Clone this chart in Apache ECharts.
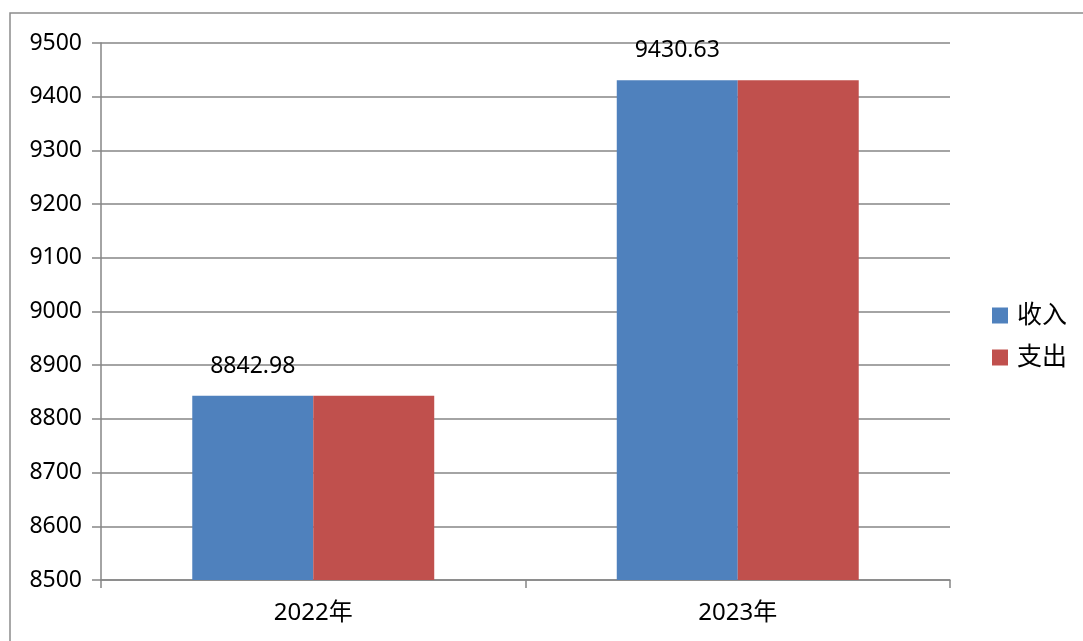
<!DOCTYPE html>
<html><head><meta charset="utf-8">
<script src="https://cdn.jsdelivr.net/npm/echarts@6/dist/echarts.min.js"></script>
<style>html,body{margin:0;padding:0;background:#fff}#c{width:1083px;height:641px}</style>
</head><body><div id="c"></div>
<script>
const categories = ['2022年', '2023年'];
const income = [8842.98, 9430.63];
const expense = [8842.98, 9430.63];
const seriesNames = ['收入', '支出'];

const chart = echarts.init(document.getElementById('c'));
const font = '"Noto Sans", "Noto Sans CJK SC", sans-serif';
chart.setOption({
  animation: false,
  backgroundColor: '#fff',
  graphic: [{type: 'rect', shape: {x: 10, y: 13, width: 1100, height: 700}, style: {fill: 'none', stroke: '#8c8c8c', lineWidth: 1.5}, silent: true}],
  grid: {left: 101, right: 133, top: 43, bottom: 61, containLabel: false},
  legend: {
    orient: 'vertical', left: 987, top: 298, itemWidth: 16, itemHeight: 16, itemGap: 17,
    icon: 'rect',
    textStyle: {fontSize: 25, fontFamily: font, color: '#000', padding: [0, 0, 0, 4]},
    data: seriesNames
  },
  xAxis: {
    type: 'category', data: categories,
    axisLine: {lineStyle: {color: '#868686', width: 1.5}},
    axisTick: {show: true, length: 8, lineStyle: {color: '#868686', width: 1.5}},
    axisLabel: {fontSize: 24, fontFamily: font, color: '#000', margin: 21},
    splitLine: {show: false}
  },
  yAxis: {
    type: 'value', min: 8500, max: 9500, interval: 100,
    axisLine: {show: true, lineStyle: {color: '#868686', width: 1.5}},
    axisTick: {show: true, length: 9, lineStyle: {color: '#868686', width: 1.5}},
    axisLabel: {fontSize: 23, fontFamily: font, color: '#000', margin: 19, formatter: v => String(v)},
    splitLine: {lineStyle: {color: '#868686', width: 1.5}}
  },
  series: [
    {name: seriesNames[0], type: 'bar', data: income, barGap: '0%', barCategoryGap: '43%',
     itemStyle: {color: '#4F81BD'},
     label: {show: true, position: 'top', distance: 18, fontSize: 23, fontFamily: font, color: '#000'}},
    {name: seriesNames[1], type: 'bar', data: expense, barGap: '0%', barCategoryGap: '43%',
     itemStyle: {color: '#C0504D'}}
  ]
});
</script></body></html>
